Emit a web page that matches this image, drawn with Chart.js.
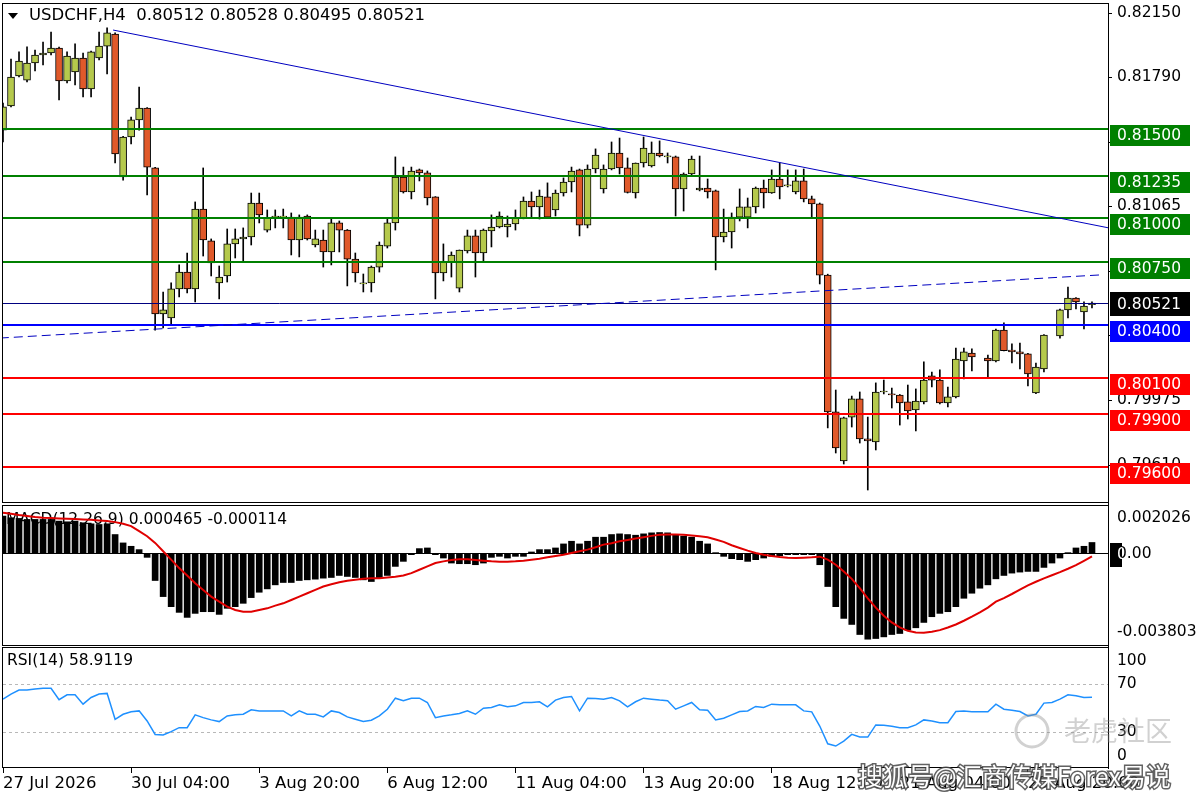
<!DOCTYPE html>
<html lang="en">
<head>
<meta charset="UTF-8">
<title>USDCHF,H4</title>
<style>
  html, body { margin: 0; padding: 0; background: #fff; }
  #wrap { position: relative; width: 1200px; height: 800px; }
  canvas { display: block; }
</style>
</head>
<body>
<div id="wrap"><canvas id="chart" width="1200" height="800"></canvas></div>

<script src="https://cdn.jsdelivr.net/npm/chart.js@4.4.1/dist/chart.umd.min.js"></script>
<script>
// ---- data ----
const symbol = 'USDCHF';
const timeframe = 'H4';
const slots = 139; // bar slots across the window (last two are empty space)

const opens = [
  0.81494,0.81629,0.81798,0.81775,0.81871,0.81916,0.81927,0.81955,0.81770,0.81820,
  0.81899,0.81725,0.81899,0.81966,0.82034,0.81230,0.81455,0.81551,0.81618,0.81281,
  0.80460,0.80438,0.80601,0.80696,0.80601,0.81050,0.80871,0.80635,0.80674,0.80854,
  0.80882,0.80893,0.81084,0.80932,0.81005,0.81005,0.81005,0.80876,0.81011,0.80848,
  0.80876,0.80809,0.80972,0.80932,0.80769,0.80629,0.80635,0.80724,0.80842,0.80972,
  0.81230,0.81146,0.81270,0.81253,0.81118,0.80691,0.80753,0.80606,0.80814,0.80899,
  0.80803,0.80927,0.80949,0.80949,0.80966,0.81000,0.81095,0.81062,0.81118,0.81045,
  0.81140,0.81202,0.81270,0.80960,0.81275,0.81163,0.81275,0.81365,0.81281,0.81140,
  0.81309,0.81292,0.81365,0.81343,0.81343,0.81163,0.81247,0.81157,0.81168,0.81152,
  0.80893,0.80921,0.81005,0.81005,0.81062,0.81168,0.81140,0.81219,0.81180,0.81146,
  0.81208,0.81107,0.81079,0.80679,0.79910,0.79634,0.79881,0.79983,0.79758,0.79741,
  0.80022,0.80011,0.80005,0.79966,0.79921,0.79966,0.80112,0.80089,0.79960,0.79994,
  0.80196,0.80241,null,0.80213,0.80196,0.80370,0.80258,0.80247,0.80236,0.80016,
  0.80151,null,0.80337,0.80483,0.80550,0.80472,0.80512
];
const highs = [
  0.81646,0.81893,0.81933,0.81961,0.81944,0.81989,0.82045,0.81960,0.81933,0.81978,
  0.81927,0.81938,0.82045,0.82068,0.82040,0.81458,0.81567,0.81736,0.81620,0.81284,
  0.80584,0.80635,0.80736,0.80803,0.81090,0.81281,0.80882,0.80730,0.80938,0.80938,
  0.80944,0.81140,0.81140,0.81045,0.81045,0.81050,0.81028,0.81017,0.81017,0.80932,
  0.80932,0.81000,0.80983,0.80935,0.80803,0.80685,0.80730,0.80865,0.81000,0.81343,
  0.81286,0.81286,0.81275,0.81264,0.81120,0.80854,0.80809,0.80820,0.80932,0.80932,
  0.80938,0.81017,0.81034,0.81011,0.81045,0.81118,0.81146,0.81157,0.81197,0.81157,
  0.81225,0.81286,0.81275,0.81298,0.81388,0.81298,0.81427,0.81449,0.81337,0.81309,
  0.81455,0.81427,0.81433,0.81365,0.81348,0.81253,0.81348,0.81348,0.81219,0.81157,
  0.81050,0.81028,0.81163,0.81112,0.81174,0.81213,0.81270,0.81309,0.81270,0.81270,
  0.81275,0.81123,0.81084,0.80684,0.80033,0.79881,0.79999,0.80022,0.79881,0.80073,
  0.80089,0.80044,0.80008,0.80061,0.80039,0.80191,0.80134,0.80146,0.80050,0.80269,
  0.80269,0.80264,null,0.80230,0.80376,0.80410,0.80292,0.80297,0.80239,0.80185,
  0.80345,null,0.80488,0.80612,0.80553,0.80528,0.80528
];
const lows = [
  0.81427,0.81624,0.81792,0.81764,0.81826,0.81860,0.81916,0.81663,0.81759,0.81747,
  0.81680,0.81680,0.81888,0.81809,0.81309,0.81213,0.81416,0.81494,0.81129,0.80370,
  0.80382,0.80398,0.80556,0.80578,0.80528,0.80786,0.80674,0.80545,0.80640,0.80775,
  0.80758,0.80848,0.80972,0.80921,0.80944,0.80944,0.80792,0.80781,0.80876,0.80837,
  0.80724,0.80736,0.80809,0.80618,0.80640,0.80584,0.80584,0.80696,0.80831,0.80932,
  0.81140,0.81107,0.81208,0.81073,0.80545,0.80646,0.80668,0.80584,0.80803,0.80668,
  0.80758,0.80837,0.80944,0.80893,0.80932,0.80995,0.81005,0.80994,0.81000,0.81011,
  0.81123,0.81146,0.80899,0.80944,0.81253,0.81140,0.81270,0.81247,0.81140,0.81112,
  0.81286,0.81286,0.81343,0.81309,0.81011,0.81039,0.81241,0.81152,0.81112,0.80708,
  0.80865,0.80831,0.80983,0.80944,0.81028,0.81056,0.81138,0.81107,0.81174,0.81135,
  0.81090,0.81005,0.80629,0.79820,0.79679,0.79617,0.79825,0.79735,0.79471,0.79696,
  0.80011,0.79932,0.79836,0.79870,0.79803,0.79955,0.80050,0.79955,0.79938,0.79988,
  0.80095,0.80140,null,0.80101,0.80191,0.80252,0.80185,0.80151,0.80056,0.80013,
  0.80134,null,0.80325,0.80438,0.80489,0.80376,0.80495
];
const closes = [
  0.81624,0.81792,0.81882,0.81871,0.81916,0.81927,0.81955,0.81770,0.81910,0.81899,
  0.81725,0.81933,0.81966,0.82040,0.81360,0.81455,0.81551,0.81618,0.81286,0.80460,
  0.80483,0.80601,0.80696,0.80601,0.81050,0.80876,0.80747,0.80668,0.80854,0.80882,
  0.80893,0.81084,0.81017,0.81000,0.81011,0.81007,0.80876,0.81005,0.80882,0.80882,
  0.80809,0.80972,0.80932,0.80769,0.80691,0.80635,0.80724,0.80848,0.80972,0.81230,
  0.81146,0.81264,0.81253,0.81112,0.80691,0.80753,0.80792,0.80820,0.80899,0.80803,
  0.80932,0.80949,0.81011,0.80966,0.81000,0.81095,0.81062,0.81123,0.81005,0.81140,
  0.81202,0.81264,0.80960,0.81275,0.81354,0.81275,0.81365,0.81281,0.81143,0.81309,
  0.81393,0.81365,0.81348,0.81348,0.81163,0.81247,0.81331,0.81168,0.81146,0.80893,
  0.80921,0.81005,0.81062,0.81062,0.81168,0.81140,0.81219,0.81174,0.81185,0.81208,
  0.81107,0.81079,0.80679,0.79910,0.79707,0.79876,0.79983,0.79758,0.79747,0.80022,
  0.80025,0.80005,0.79960,0.79915,0.79971,0.80089,0.80089,0.79960,0.79994,0.80207,
  0.80247,0.80219,null,0.80196,0.80370,0.80254,0.80247,0.80236,0.80123,0.80162,
  0.80342,null,0.80483,0.80550,0.80528,0.80505,0.80521
];

// MACD(12,26,9): histogram = main line, red = signal
const macdMain = [
  0.001565,0.001495,0.001467,0.001425,0.001425,0.001425,0.001425,0.001355,0.001327,0.001355,
  0.001285,0.001243,0.001215,0.001243,0.000796,0.000447,0.000307,0.000168,-0.000154,-0.001118,
  -0.001788,-0.002207,-0.002445,-0.002654,-0.002487,-0.002417,-0.002417,-0.002529,-0.002277,-0.002207,
  -0.002068,-0.00183,-0.001607,-0.001467,-0.001299,-0.001201,-0.001201,-0.001118,-0.00109,-0.001062,
  -0.00102,-0.000992,-0.000908,-0.00095,-0.000992,-0.00109,-0.00116,-0.00102,-0.000908,-0.000531,
  -0.000321,-0.000042,0.00021,0.000237,-0.000014,-0.000182,-0.000391,-0.000419,-0.000419,-0.000461,
  -0.000391,-0.000154,-0.000112,-0.000182,-0.000112,-0.000112,0.00007,0.000168,0.000168,0.000237,
  0.000405,0.000517,0.000405,0.000517,0.000685,0.000685,0.000796,0.000824,0.000796,0.000768,
  0.000824,0.000866,0.00088,0.000866,0.000796,0.000726,0.000685,0.000517,0.000405,0.000028,
  -0.000112,-0.00021,-0.000251,-0.000321,-0.000251,-0.000182,-0.000112,-0.000084,-0.000042,-0.000042,
  -0.000042,-0.000014,-0.000461,-0.001369,-0.002207,-0.002696,-0.002948,-0.003367,-0.003562,-0.003534,
  -0.003465,-0.003367,-0.003325,-0.003185,-0.003087,-0.002864,-0.002626,-0.002487,-0.002417,-0.002207,
  -0.001858,-0.001648,-0.001439,-0.001299,-0.001048,-0.000908,-0.00081,-0.000768,-0.00074,-0.00074,
  -0.000573,-0.000391,-0.000182,0.000028,0.000237,0.000307,0.000465
];
const macdSignal = [
  0.001704,0.001662,0.001607,0.001565,0.001523,0.001495,0.001481,0.001467,0.001453,0.001439,
  0.001425,0.001411,0.001383,0.001355,0.001313,0.001243,0.001146,0.000936,0.000726,0.000447,
  0.000098,-0.000251,-0.000601,-0.000908,-0.001229,-0.001509,-0.001788,-0.001998,-0.002207,-0.002347,
  -0.002417,-0.002417,-0.002347,-0.002277,-0.002165,-0.002068,-0.001928,-0.001788,-0.001648,-0.001509,
  -0.001369,-0.001271,-0.001187,-0.001132,-0.00109,-0.001048,-0.00102,-0.00102,-0.000992,-0.000964,
  -0.000908,-0.00081,-0.000671,-0.000531,-0.000391,-0.000321,-0.000265,-0.000237,-0.000237,-0.000265,
  -0.000293,-0.000321,-0.000335,-0.000335,-0.000321,-0.000293,-0.000251,-0.00021,-0.000154,-0.000098,
  -0.000042,0.000028,0.000098,0.000168,0.000265,0.000377,0.000433,0.000517,0.000573,0.000629,
  0.000685,0.00074,0.000782,0.000796,0.000796,0.000782,0.000754,0.000726,0.000685,0.000587,
  0.000489,0.000349,0.000237,0.000126,0.000028,-0.000042,-0.000098,-0.00014,-0.000168,-0.000182,
  -0.000168,-0.000154,-0.000126,-0.000251,-0.000461,-0.00074,-0.001048,-0.001439,-0.001858,-0.002249,
  -0.002584,-0.002864,-0.003073,-0.003213,-0.003283,-0.003297,-0.003255,-0.003185,-0.003073,-0.002948,
  -0.002794,-0.002626,-0.002445,-0.002249,-0.00200,-0.00185,-0.00168,-0.00150,-0.00132,-0.00117,
  -0.00103,-0.00090,-0.00077,-0.00063,-0.00048,-0.00030,-0.000114
];
const rsiValues = [
  57.4,61.6,65.0,65.0,65.8,66.4,66.4,56.9,61.0,61.0,
  53.2,58.8,61.6,62.2,40.6,44.8,46.8,47.6,39.2,28.0,
  27.5,30.3,33.6,33.6,44.3,42.0,40.1,38.7,43.4,44.3,
  44.8,48.5,47.6,47.6,47.6,47.6,43.4,47.6,44.8,44.8,
  42.6,47.6,46.2,42.6,40.6,38.7,39.8,43.4,49.0,58.2,
  56.0,58.2,58.2,54.6,42.0,43.4,44.3,45.4,47.6,44.8,
  49.9,50.4,52.7,51.0,51.8,54.6,54.6,55.2,51.0,56.6,
  58.8,59.6,47.6,58.2,58.0,57.4,58.8,56.0,51.0,55.2,
  58.2,57.4,56.6,56.0,49.0,51.8,54.6,48.5,48.2,40.1,
  41.5,44.3,47.1,47.6,51.3,50.4,53.2,52.7,52.7,52.7,
  47.6,46.8,35.0,20.2,18.3,22.4,28.0,25.8,25.8,35.9,
  35.6,34.8,33.6,33.6,35.9,40.1,39.2,37.8,37.8,47.1,
  47.6,46.8,46.8,46.8,53.2,49.0,48.2,47.1,43.4,44.8,
  54.1,54.6,57.4,61.0,60.2,58.8,58.9119
];

// axes
const xTickLabels = ['27 Jul 2026', '30 Jul 04:00', '3 Aug 20:00', '6 Aug 12:00', '11 Aug 04:00',
                     '13 Aug 20:00', '18 Aug 12:00', '21 Aug 04:00', '25 Aug 20:00'];
const xTickEvery = 16;
const priceTicks = [0.82150, 0.81790, 0.81425, 0.81065, 0.80700, 0.80340, 0.79975, 0.79610];
const priceRange = [0.79398, 0.82208];
const macdRange = [-0.003845, 0.002109];
const macdAxisLabels = ['0.002026', '0.00', '-0.003803'];
const rsiAxisLabels = [100, 70, 30, 0];
const rsiLevels = [70, 30];

// drawn objects
const greenLevels = [0.81500, 0.81235, 0.81000, 0.80750];
const redLevels = [0.80100, 0.79900, 0.79600];
const blueLevel = 0.80400;
const trendHigh = [[13.75, 0.82056], [138.1, 0.80944]];
const trendLow = [[-0.4, 0.80325], [137.1, 0.80680]];

// ---- chart ----
const FONT = 'DejaVu Sans';
const tickFont = { family: FONT, size: 15.5 };
const xFont = { family: FONT, size: 16.5 };
const bullColor = '#b5c94c';
const bearColor = '#e0592a';
const last = closes.length - 1;

const bodyColors = closes.map((c, i) => (c !== null && c >= opens[i]) ? bullColor : bearColor);

const overlay = {
  id: 'mt4Overlay',
  beforeDraw(chart) {
    // black value marker behind the MACD zero label
    const { ctx, chartArea: ca, scales } = chart;
    const py = Math.round(scales.yMacd.getPixelForValue(0));
    ctx.save();
    ctx.fillStyle = '#000';
    ctx.fillRect(ca.right + 2, py - 11, 12, 24);
    ctx.restore();
  },
  beforeDatasetsDraw(chart) {
    const { ctx, chartArea: ca, scales } = chart;
    const yM = scales.yMacd, yR = scales.yRsi;
    ctx.save();
    ctx.font = `15.5px "${FONT}"`;
    ctx.fillStyle = '#000';
    ctx.textBaseline = 'middle';
    ctx.fillText(`MACD(12,26,9) ${macdMain[last].toFixed(6)} ${macdSignal[last].toFixed(6)}`, ca.left + 3, yM.top + 17);
    ctx.fillText(`RSI(14) ${rsiValues[last].toFixed(4)}`, ca.left + 4, yR.top + 15);
    // MACD zero level
    const z = Math.round(yM.getPixelForValue(0)) - 0.5;
    ctx.strokeStyle = '#000';
    ctx.lineWidth = 1;
    ctx.beginPath(); ctx.moveTo(ca.left, z); ctx.lineTo(ca.right, z); ctx.stroke();
    // RSI levels
    ctx.strokeStyle = '#b8b8b8';
    ctx.setLineDash([3, 3]);
    rsiLevels.forEach(v => {
      const py = Math.round(yR.getPixelForValue(v)) + 0.5;
      ctx.beginPath(); ctx.moveTo(ca.left, py); ctx.lineTo(ca.right, py); ctx.stroke();
    });
    ctx.restore();
  },
  afterDraw(chart) {
    const { ctx, chartArea: ca, scales } = chart;
    const x = scales.x, y = scales.y, yM = scales.yMacd, yR = scales.yRsi;

    // horizontal levels and trend lines, clipped to the price pane
    ctx.save();
    ctx.beginPath();
    ctx.rect(ca.left, y.top, ca.right - ca.left, y.bottom - y.top);
    ctx.clip();
    const hline = (v, color, w) => {
      let py = Math.round(y.getPixelForValue(v));
      if (w % 2) py += 0.5;
      ctx.strokeStyle = color; ctx.lineWidth = w;
      ctx.beginPath(); ctx.moveTo(ca.left, py); ctx.lineTo(ca.right, py); ctx.stroke();
    };
    greenLevels.forEach(v => hline(v, '#008000', 2));
    redLevels.forEach(v => hline(v, '#ff0000', 2));
    hline(blueLevel, '#0000ff', 2);
    hline(closes[last], '#000080', 1);
    const seg = (pts, dash) => {
      ctx.strokeStyle = '#0000c0'; ctx.lineWidth = 1; ctx.setLineDash(dash);
      ctx.beginPath();
      ctx.moveTo(x.getPixelForValue(pts[0][0]), y.getPixelForValue(pts[0][1]));
      ctx.lineTo(x.getPixelForValue(pts[1][0]), y.getPixelForValue(pts[1][1]));
      ctx.stroke();
    };
    seg(trendHigh, []);
    seg(trendLow, [9, 5]);
    ctx.restore();

    // price tags on the right axis
    ctx.save();
    ctx.font = `15.5px "${FONT}"`;
    ctx.textBaseline = 'middle';
    const tag = (v, bg, dy, h) => {
      const py = Math.round(y.getPixelForValue(v)) + dy;
      ctx.fillStyle = bg;
      ctx.fillRect(ca.right + 2, py - Math.floor(h / 2), 80, h);
      ctx.fillStyle = '#fff';
      ctx.fillText(v.toFixed(5), ca.right + 9, py + 1);
    };
    greenLevels.forEach(v => tag(v, '#008000', 6, 21));
    tag(closes[last], '#000000', 1, 24);
    tag(blueLevel, '#0000ff', 6, 21);
    redLevels.forEach(v => tag(v, '#ff0000', 6, 21));
    // white first digit of the MACD zero label inside its black marker
    const z = Math.round(yM.getPixelForValue(0));
    ctx.beginPath();
    ctx.rect(ca.right + 2, z - 11, 12, 24);
    ctx.clip();
    ctx.fillText(macdAxisLabels[1], ca.right + 9, z + 0.5);
    ctx.restore();

    // pane frames
    ctx.save();
    ctx.fillStyle = '#fff';
    ctx.fillRect(ca.left - 1, y.bottom - 1, ca.right - ca.left + 1, 3);
    ctx.fillRect(ca.left - 1, yR.top, ca.right - ca.left + 1, 1);
    ctx.strokeStyle = '#000';
    ctx.lineWidth = 1;
    const frame = (t, b) => ctx.strokeRect(ca.left - 0.5, t + 0.5, ca.right - ca.left + 1, b - t);
    frame(y.top, y.bottom - 1);
    frame(yM.top + 2, yM.bottom - 1);
    frame(yR.top + 1, yR.bottom - 1);
    ctx.restore();

    // header
    ctx.save();
    ctx.fillStyle = '#000';
    ctx.beginPath(); ctx.moveTo(8, 13); ctx.lineTo(18, 13); ctx.lineTo(13, 19); ctx.closePath(); ctx.fill();
    ctx.font = `16.5px "${FONT}"`;
    ctx.textBaseline = 'middle';
    const f = v => v.toFixed(5);
    ctx.fillText(`${symbol},${timeframe}  ${f(opens[last])} ${f(highs[last])} ${f(lows[last])} ${f(closes[last])}`, 29, 16);
    ctx.restore();

    // watermarks
    ctx.save();
    ctx.globalAlpha = 0.4;
    ctx.strokeStyle = '#8c8c8c';
    ctx.lineWidth = 3;
    ctx.beginPath(); ctx.arc(1032, 731, 16, 0, Math.PI * 2); ctx.stroke();
    ctx.fillStyle = '#8c8c8c';
    ctx.font = '27px "Noto Sans CJK SC"';
    ctx.textBaseline = 'middle';
    ctx.fillText('老虎社区', 1064, 731);
    ctx.restore();
    ctx.save();
    ctx.font = '25px "Noto Sans CJK SC"';
    ctx.textBaseline = 'middle';
    ctx.lineWidth = 3;
    ctx.strokeStyle = 'rgba(70,70,70,0.85)';
    ctx.strokeText('搜狐号@汇商传媒Forex易说', 858, 776);
    ctx.fillStyle = '#ffffff';
    ctx.fillText('搜狐号@汇商传媒Forex易说', 858, 776);
    ctx.restore();
  }
};

const fitWidth = s => { s.width = 92; s.paddingTop = 0; s.paddingBottom = 0; };

new Chart(document.getElementById('chart'), {
  type: 'bar',
  data: {
    labels: Array.from({ length: slots }, (_, i) => i),
    datasets: [
      {
        label: 'body', data: opens.map((o, i) => o === null ? null : [o, closes[i]]),
        yAxisID: 'y', barThickness: 7, backgroundColor: bodyColors,
        borderColor: '#000', borderWidth: 1, borderSkipped: false, minBarLength: 1,
        grouped: false, order: 1
      },
      {
        label: 'wick', data: lows.map((l, i) => l === null ? null : [l, highs[i]]),
        yAxisID: 'y', barThickness: 1, backgroundColor: '#000', borderWidth: 0,
        grouped: false, order: 2
      },
      {
        type: 'line', label: 'Signal', data: macdSignal, yAxisID: 'yMacd',
        borderColor: '#e00000', borderWidth: 2, pointRadius: 0, tension: 0, order: 3
      },
      {
        label: 'MACD', data: macdMain, yAxisID: 'yMacd', barThickness: 6,
        backgroundColor: '#000', borderWidth: 0, minBarLength: 1, grouped: false, order: 4
      },
      {
        type: 'line', label: 'RSI', data: rsiValues, yAxisID: 'yRsi',
        borderColor: '#1e90ff', borderWidth: 1.5, pointRadius: 0, tension: 0, order: 5
      }
    ]
  },
  options: {
    responsive: false,
    devicePixelRatio: 1,
    animation: false,
    events: [],
    layout: { padding: { left: 3, top: 3, right: 0, bottom: 0 } },
    plugins: { legend: { display: false }, tooltip: { enabled: false } },
    scales: {
      x: {
        type: 'category', offset: false, position: 'bottom',
        grid: { offset: false, drawOnChartArea: false, drawTicks: true, tickLength: 5, color: '#000' },
        border: { display: false },
        ticks: {
          autoSkip: false, maxRotation: 0, minRotation: 0, align: 'start', padding: 1,
          color: '#000', font: xFont,
          callback: v => xTickLabels[v / xTickEvery]
        },
        afterBuildTicks: s => { s.ticks = s.ticks.filter(t => t.value % xTickEvery === 0); },
        afterFit: s => { s.height = 32; s.paddingLeft = 0; s.paddingRight = 0; }
      },
      y: {
        type: 'linear', position: 'right', stack: 'panes', stackWeight: 500,
        min: priceRange[0], max: priceRange[1],
        grid: { drawOnChartArea: false, drawTicks: true, tickLength: 4, color: '#000' },
        border: { color: '#000' },
        ticks: { autoSkip: false, color: '#000', font: tickFont, padding: 5, callback: v => v.toFixed(5) },
        afterBuildTicks: s => { s.ticks = priceTicks.map(v => ({ value: v })); },
        afterFit: fitWidth
      },
      yMacd: {
        type: 'linear', position: 'right', stack: 'panes', stackWeight: 143,
        min: macdRange[0], max: macdRange[1],
        grid: { drawOnChartArea: false, drawTicks: false, color: '#000' },
        border: { color: '#000' },
        ticks: { autoSkip: false, color: '#000', font: tickFont, padding: 9, callback: (v, i) => macdAxisLabels[i] },
        afterBuildTicks: s => {
          const span = s.max - s.min;
          s.ticks = [{ value: s.max - span * 0.105 }, { value: 0 }, { value: s.min + span * 0.098 }];
        },
        afterFit: fitWidth
      },
      yRsi: {
        type: 'linear', position: 'right', stack: 'panes', stackWeight: 122,
        min: 0, max: 101.7,
        grid: { drawOnChartArea: false, drawTicks: false, color: '#000' },
        border: { color: '#000' },
        ticks: { autoSkip: false, color: '#000', font: tickFont, padding: 9, callback: (v, i) => String(rsiAxisLabels[i]) },
        afterBuildTicks: s => {
          s.ticks = rsiAxisLabels.map(v => ({ value: Math.min(Math.max(v, 10), 89) }));
        },
        afterFit: fitWidth
      }
    }
  },
  plugins: [overlay]
});
</script>
</body>
</html>
